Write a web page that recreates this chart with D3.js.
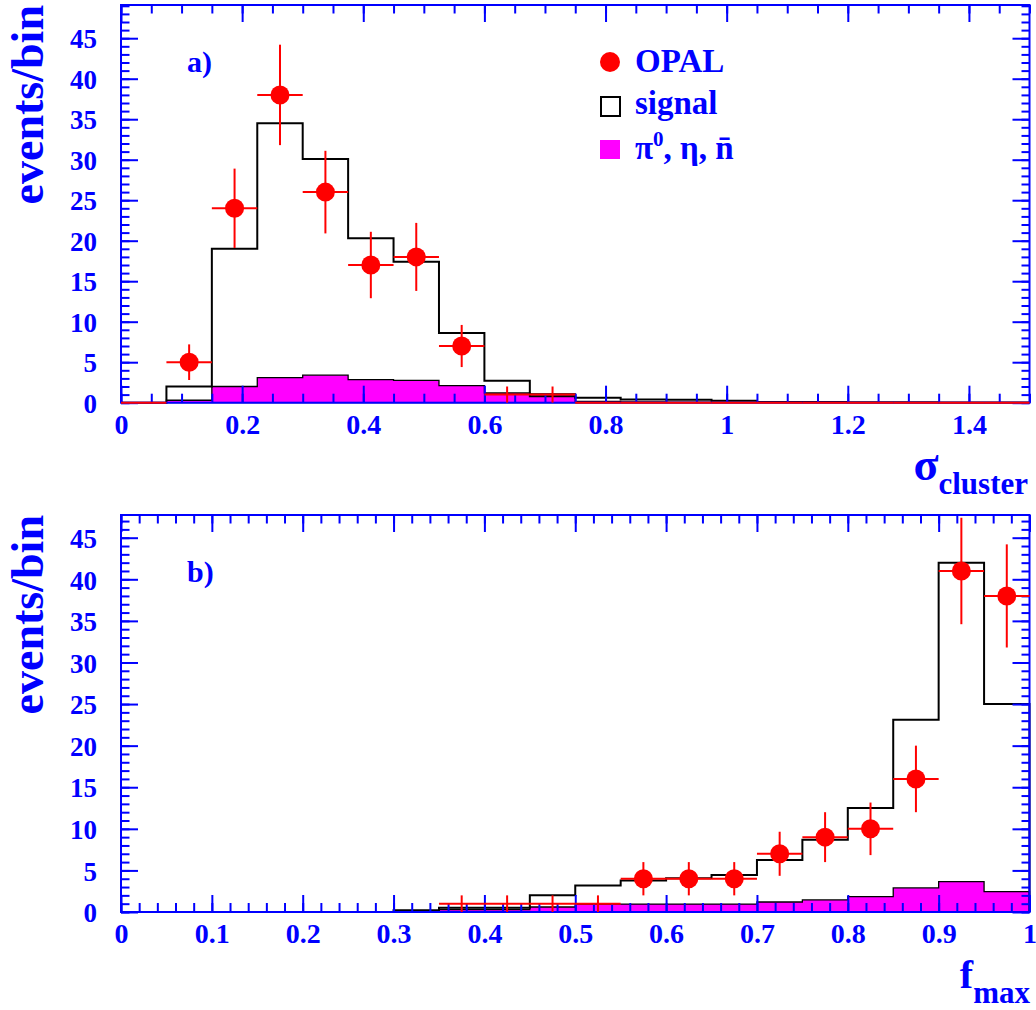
<!DOCTYPE html>
<html><head><meta charset="utf-8">
<script src="https://cdn.jsdelivr.net/npm/d3@7"></script>
<style>
body{margin:0;background:#fff} svg{display:block}
svg text{font-family:"Liberation Serif","Times New Roman",Times,Tinos,"DejaVu Serif",serif !important;font-weight:bold;}
</style>
</head><body>
<svg id="c" width="1036" height="1010"></svg>
<script>
// ---------- Panel a) : sigma_cluster ----------
const edgesA  = [0,0.075,0.15,0.225,0.3,0.375,0.45,0.525,0.6,0.675,0.75,0.825,0.9,0.975,1.05,1.125,1.2,1.275,1.35,1.425,1.5];
const signalA = [0,2.0,19.0,34.5,30.1,20.3,17.4,8.6,2.7,0.8,0.6,0.4,0.35,0.25,0.1,0.08,0.06,0.05,0.04,0.03];
const bgA     = [0,0.3,2.0,3.1,3.4,2.85,2.75,2.1,1.2,1.1,0.15,0.1,0.08,0.05,0.03,0.02,0,0,0,0];
const dataA   = [0,5,24,38,26,17,18,7,1,1,0,0,0,0,0,0,0,0,0,0];
const errA    = [0,2.2,4.9,6.2,5.1,4.1,4.2,2.6,1,1,0,0,0,0,0,0,0,0,0,0];
const xTicksA      = [0,0.2,0.4,0.6,0.8,1.0,1.2,1.4];
const xTickLabelsA = ["0","0.2","0.4","0.6","0.8","1","1.2","1.4"];

// ---------- Panel b) : f_max ----------
const edgesB  = [0,0.05,0.1,0.15,0.2,0.25,0.3,0.35,0.4,0.45,0.5,0.55,0.6,0.65,0.7,0.75,0.8,0.85,0.9,0.95,1.0];
const signalB = [0,0,0,0,0,0,0.2,0.5,0.5,2.0,3.2,3.8,4.05,4.45,6.25,8.7,12.5,23.1,42.0,25.0];
const bgB     = [0,0,0,0,0,0,0.05,0.3,0.3,0.6,0.95,0.95,0.95,0.95,1.2,1.45,1.85,2.9,3.65,2.45];
const dataB   = [null,null,null,null,null,null,null,1,1,1,1,4,4,4,7,9,10,16,41,38];
const errB    = [0,0,0,0,0,0,0,1,1,1,1,2,2,2,2.65,3,3.16,4,6.4,6.2];
const xTicksB      = [0,0.1,0.2,0.3,0.4,0.5,0.6,0.7,0.8,0.9,1.0];
const xTickLabelsB = ["0","0.1","0.2","0.3","0.4","0.5","0.6","0.7","0.8","0.9","1"];

const yTicks      = [0,5,10,15,20,25,30,35,40,45];
const yTickLabels = ["0","5","10","15","20","25","30","35","40","45"];

const legendLabels = ["OPAL","signal","π⁰, η, n̄"];

const BLUE="#0000ff", RED="#ff0000", MAG="#ff00ff";
const svg=d3.select("#c");

function panel(o){
  const x=d3.scaleLinear().domain([0,o.xmax]).range([121,1029.5]);
  const y=d3.scaleLinear().domain([0,o.ymax]).range([o.bottom,o.top]);
  const g=svg.append("g");
  const histPath=(vals)=>{
    let p=`M${x(o.edges[0])},${y(0)}`;
    vals.forEach((v,i)=>{p+=`L${x(o.edges[i])},${y(v)}L${x(o.edges[i+1])},${y(v)}`;});
    p+=`L${x(o.edges[o.edges.length-1])},${y(0)}Z`;
    return p;
  };
  g.append("path").attr("d",histPath(o.bg)).attr("fill",MAG).attr("stroke","#000").attr("stroke-width",1.3);
  g.append("path").attr("d",histPath(o.signal).replace(/Z$/,"")).attr("fill","none").attr("stroke","#000").attr("stroke-width",2);

  const ax=g.append("g");
  const minorX=d3.range(0,o.xmax+1e-9,o.minorStep);
  const minorY=d3.range(0,Math.floor(o.ymax)+1,1);
  const style=sel=>{sel.select(".domain").remove();sel.selectAll("line").attr("stroke",BLUE).attr("stroke-width",2);
    sel.selectAll("text").attr("fill",BLUE).attr("font-size",28);};
  ax.append("g").attr("transform",`translate(0,${o.bottom})`)
    .call(d3.axisBottom(x).tickValues(o.xticks).tickSize(-17).tickSizeOuter(0).tickPadding(11).tickFormat((d,i)=>o.xlabels[i])).call(style);
  ax.append("g").attr("transform",`translate(0,${o.bottom})`)
    .call(d3.axisBottom(x).tickValues(minorX).tickSize(-9).tickSizeOuter(0).tickFormat("")).call(style);
  ax.append("g").attr("transform",`translate(0,${o.top})`)
    .call(d3.axisTop(x).tickValues(o.xticks).tickSize(-17).tickSizeOuter(0).tickFormat("")).call(style);
  ax.append("g").attr("transform",`translate(0,${o.top})`)
    .call(d3.axisTop(x).tickValues(minorX).tickSize(-8.5).tickSizeOuter(0).tickFormat("")).call(style);
  const yl=ax.append("g").attr("transform",`translate(121,0)`)
    .call(d3.axisLeft(y).tickValues(yTicks).tickSize(-17).tickSizeOuter(0).tickPadding(24).tickFormat((d,i)=>yTickLabels[i])).call(style);
  yl.selectAll("text").attr("dy","0.36em").attr("font-size",27);
  ax.append("g").attr("transform",`translate(121,0)`)
    .call(d3.axisLeft(y).tickValues(minorY).tickSize(-8.5).tickSizeOuter(0).tickFormat("")).call(style);
  ax.append("g").attr("transform",`translate(1029.5,0)`)
    .call(d3.axisRight(y).tickValues(yTicks).tickSize(-17).tickSizeOuter(0).tickFormat("")).call(style);
  ax.append("g").attr("transform",`translate(1029.5,0)`)
    .call(d3.axisRight(y).tickValues(minorY).tickSize(-8).tickSizeOuter(0).tickFormat("")).call(style);
  g.append("rect").attr("x",121).attr("y",o.top).attr("width",1029.5-121).attr("height",o.bottom-o.top)
    .attr("fill","none").attr("stroke",BLUE).attr("stroke-width",2);

  const dg=g.append("g");
  o.data.forEach((v,i)=>{
    if(v===null) return;
    const cx=x((o.edges[i]+o.edges[i+1])/2);
    dg.append("line").attr("x1",x(o.edges[i])).attr("x2",x(o.edges[i+1])).attr("y1",y(v)).attr("y2",y(v)).attr("stroke",RED).attr("stroke-width",2);
    if(v>0){
      dg.append("line").attr("x1",cx).attr("x2",cx).attr("y1",y(v-o.err[i])).attr("y2",y(v+o.err[i])).attr("stroke",RED).attr("stroke-width",2);
      if(v>=2) dg.append("circle").attr("cx",cx).attr("cy",y(v)).attr("r",9.5).attr("fill",RED);
    }
  });

  g.append("text").attr("transform",`translate(43,${o.top}) rotate(-90)`).attr("text-anchor","end")
    .attr("fill",BLUE).attr("font-size",46).text("events/bin");
  g.append("text").attr("x",187).attr("y",o.labelY).attr("fill",BLUE).attr("font-size",30).text(o.label);
  return {x,y,g};
}

panel({edges:edgesA,signal:signalA,bg:bgA,data:dataA,err:errA,xmax:1.5,ymax:49.1,top:5,bottom:402.7,
  minorStep:0.05,xticks:xTicksA,xlabels:xTickLabelsA,label:"a)",labelY:72});
panel({edges:edgesB,signal:signalB,bg:bgB,data:dataB,err:errB,xmax:1.0,ymax:47.73,top:515,bottom:912,
  minorStep:0.02,xticks:xTicksB,xlabels:xTickLabelsB,label:"b)",labelY:582});

const t1=svg.append("text").attr("x",1028).attr("y",480).attr("text-anchor","end").attr("fill",BLUE);
t1.append("tspan").attr("font-size",46).text("σ");
t1.append("tspan").attr("font-size",31).attr("dy",14).text("cluster");
const t2=svg.append("text").attr("x",1030).attr("y",988).attr("text-anchor","end").attr("fill",BLUE);
t2.append("tspan").attr("font-size",40).text("f");
t2.append("tspan").attr("font-size",31).attr("dy",15).text("max");

const lg=svg.append("g").attr("fill",BLUE);
lg.append("circle").attr("cx",610).attr("cy",62).attr("r",10).attr("fill",RED);
lg.append("rect").attr("x",601).attr("y",97).attr("width",19).attr("height",19).attr("fill","#fff").attr("stroke","#000").attr("stroke-width",2);
lg.append("rect").attr("x",600).attr("y",140).attr("width",20).attr("height",19).attr("fill",MAG);
lg.append("text").attr("x",635).attr("y",72).attr("font-size",33).text(legendLabels[0]);
lg.append("text").attr("x",635).attr("y",113.5).attr("font-size",33).text(legendLabels[1]);
const l3=lg.append("text").attr("x",635).attr("y",158.5).attr("font-size",33);
l3.append("tspan").text("π");
l3.append("tspan").attr("font-size",21).attr("dy",-13).text("0");
l3.append("tspan").attr("dy",13).text(", η, n\u0304");
</script>
</body></html>
